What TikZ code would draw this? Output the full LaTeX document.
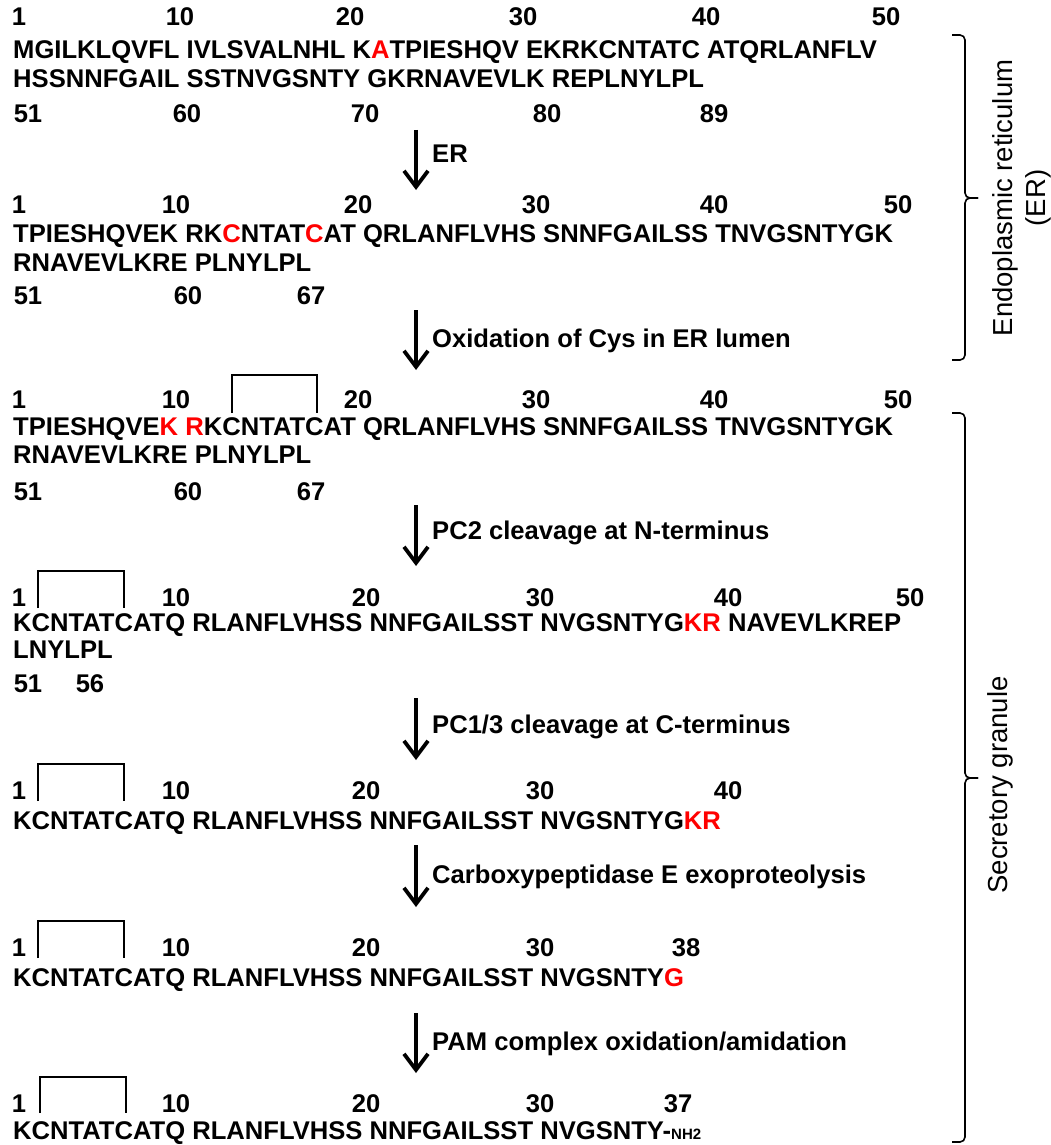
\documentclass[tikz,border=0pt]{standalone}
\usepackage{fontspec}
\setmainfont{Liberation Sans}
\usetikzlibrary{arrows.meta}
\definecolor{seqred}{RGB}{255,0,0}
\newcommand{\rd}[1]{\textcolor{seqred}{#1}}
\begin{document}
\begin{tikzpicture}[x=1pt,y=-1pt,
  seq/.style={anchor=base west, inner sep=0pt, font=\bfseries\fontsize{25.6}{28}\selectfont},
  num/.style={anchor=base, inner sep=0pt, font=\bfseries\fontsize{25.6}{28}\selectfont},
  lab/.style={anchor=base west, inner sep=0pt, font=\bfseries\fontsize{25.6}{28}\selectfont},
  side/.style={anchor=base, rotate=90, inner sep=0pt, font=\fontsize{27.5}{30}\selectfont},
  flow/.style={line width=3.8pt, -{Straight Barb[length=16pt,width=24pt]}},
  bond/.style={line width=1.6pt},
  region/.style={line width=1.6pt, rounded corners=5pt}]
\useasboundingbox (0,0) rectangle (1050,1145);

% ---------- Section 1: preproamylin
\node[num] (s1a) at (19,26) {1};
\node[num] (s1b) at (180,26) {10};
\node[num] (s1c) at (350,26) {20};
\node[num] (s1d) at (523,26) {30};
\node[num] (s1e) at (706,26) {40};
\node[num] (s1f) at (886,26) {50};
\node[seq] (s1l1) at (13,59) {MGILKLQVFL IVLSVALNHL K\rd{A}TPIESHQV EKRKCNTATC ATQRLANFLV};
\node[seq] (s1l2) at (13,88) {HSSNNFGAIL SSTNVGSNTY GKRNAVEVLK REPLNYLPL};
\node[num] (s1g) at (28,122) {51};
\node[num] (s1h) at (187,122) {60};
\node[num] (s1i) at (365,122) {70};
\node[num] (s1j) at (547,122) {80};
\node[num] (s1k) at (714,122) {89};

\coordinate (a1s) at (416,130);
\coordinate (a1e) at (416,190);
\draw[flow] (a1s) -- (a1e);
\node[lab] (a1l) at (432,162) {ER};

% ---------- Section 2
\node[num] (s2a) at (19,213) {1};
\node[num] (s2b) at (176,213) {10};
\node[num] (s2c) at (358,213) {20};
\node[num] (s2d) at (536,213) {30};
\node[num] (s2e) at (714,213) {40};
\node[num] (s2f) at (898,213) {50};
\node[seq] (s2l1) at (13,242) {TPIESHQVEK RK\rd{C}NTAT\rd{C}AT QRLANFLVHS SNNFGAILSS TNVGSNTYGK};
\node[seq] (s2l2) at (13,271) {RNAVEVLKRE PLNYLPL};
\node[num] (s2g) at (28,304) {51};
\node[num] (s2h) at (188,304) {60};
\node[num] (s2i) at (311,304) {67};

\coordinate (a2s) at (416,310);
\coordinate (a2e) at (416,370);
\draw[flow] (a2s) -- (a2e);
\node[lab] (a2l) at (432,347) {Oxidation of Cys in ER lumen};

% ---------- Section 3
\draw[bond] (232,413) -- (232,375) -- (317,375) -- (317,413);
\node[num] (s3a) at (19,408) {1};
\node[num] (s3b) at (176,408) {10};
\node[num] (s3c) at (358,408) {20};
\node[num] (s3d) at (536,408) {30};
\node[num] (s3e) at (714,408) {40};
\node[num] (s3f) at (898,408) {50};
\node[seq] (s3l1) at (13,435) {TPIESHQVE\rd{K R}KCNTATCAT QRLANFLVHS SNNFGAILSS TNVGSNTYGK};
\node[seq] (s3l2) at (13,463) {RNAVEVLKRE PLNYLPL};
\node[num] (s3g) at (28,500) {51};
\node[num] (s3h) at (188,500) {60};
\node[num] (s3i) at (311,500) {67};

\coordinate (a3s) at (416,505);
\coordinate (a3e) at (416,566);
\draw[flow] (a3s) -- (a3e);
\node[lab] (a3l) at (432,539) {PC2 cleavage at N-terminus};

% ---------- Section 4
\draw[bond] (38,608) -- (38,571) -- (124,571) -- (124,608);
\node[num] (s4a) at (19,606) {1};
\node[num] (s4b) at (176,606) {10};
\node[num] (s4c) at (366,606) {20};
\node[num] (s4d) at (540,606) {30};
\node[num] (s4e) at (728,606) {40};
\node[num] (s4f) at (910,606) {50};
\node[seq] (s4l1) at (13,631) {KCNTATCATQ RLANFLVHSS NNFGAILSST NVGSNTYG\rd{KR} NAVEVLKREP};
\node[seq] (s4l2) at (13,658) {LNYLPL};
\node[num] (s4g) at (28,692) {51};
\node[num] (s4h) at (90,692) {56};

\coordinate (a4s) at (416,698);
\coordinate (a4e) at (416,760);
\draw[flow] (a4s) -- (a4e);
\node[lab] (a4l) at (432,733) {PC1/3 cleavage at C-terminus};

% ---------- Section 5
\draw[bond] (38,801) -- (38,764) -- (124,764) -- (124,801);
\node[num] (s5a) at (19,799) {1};
\node[num] (s5b) at (176,799) {10};
\node[num] (s5c) at (366,799) {20};
\node[num] (s5d) at (540,799) {30};
\node[num] (s5e) at (728,799) {40};
\node[seq] (s5l1) at (13,829) {KCNTATCATQ RLANFLVHSS NNFGAILSST NVGSNTYG\rd{KR}};

\coordinate (a5s) at (416,845);
\coordinate (a5e) at (416,907);
\draw[flow] (a5s) -- (a5e);
\node[lab] (a5l) at (432,883) {Carboxypeptidase E exoproteolysis};

% ---------- Section 6
\draw[bond] (38,958) -- (38,921) -- (124,921) -- (124,958);
\node[num] (s6a) at (19,956) {1};
\node[num] (s6b) at (176,956) {10};
\node[num] (s6c) at (366,956) {20};
\node[num] (s6d) at (540,956) {30};
\node[num] (s6e) at (686,956) {38};
\node[seq] (s6l1) at (13,986) {KCNTATCATQ RLANFLVHSS NNFGAILSST NVGSNTY\rd{G}};

\coordinate (a6s) at (416,1013);
\coordinate (a6e) at (416,1073);
\draw[flow] (a6s) -- (a6e);
\node[lab] (a6l) at (432,1050) {PAM complex oxidation/amidation};

% ---------- Section 7
\draw[bond] (40,1113) -- (40,1077) -- (126,1077) -- (126,1113);
\node[num] (s7a) at (19,1112) {1};
\node[num] (s7b) at (176,1112) {10};
\node[num] (s7c) at (366,1112) {20};
\node[num] (s7d) at (540,1112) {30};
\node[num] (s7e) at (678,1112) {37};
\node[seq] (s7l1) at (13,1139) {KCNTATCATQ RLANFLVHSS NNFGAILSST NVGSNTY-{\fontsize{15}{16}\selectfont NH2}};

% ---------- Compartment braces
\draw[region] (952,35) -- (965,35) -- (965,198) -- (978,198);
\draw[region] (952,360) -- (965,360) -- (965,198) -- (978,198);
\draw[region] (952,413) -- (965,413) -- (965,778) -- (978,778);
\draw[region] (952,1142) -- (965,1142) -- (965,778) -- (978,778);
\node[side] (er1) at (1012,198) {Endoplasmic reticulum};
\node[side] (er2) at (1045,198) {(ER)};
\node[side] (sg) at (1007,785) {Secretory granule};
\end{tikzpicture}
\end{document}
